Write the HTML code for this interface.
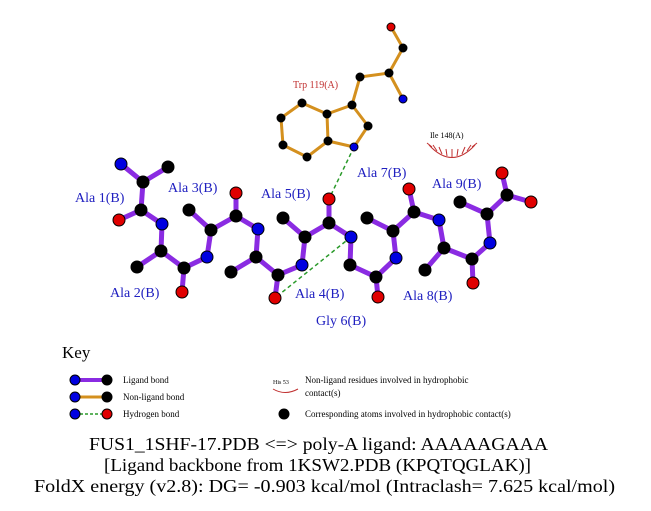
<!DOCTYPE html>
<html><head><style>body{margin:0;background:#fff}svg{display:block}</style></head><body>
<svg width="651" height="511" viewBox="0 0 651 511" xmlns="http://www.w3.org/2000/svg" font-family="Liberation Serif, serif">
<rect width="651" height="511" fill="#fff"/>
<g stroke="#8a2be2" stroke-width="5" fill="none" stroke-linejoin="round">
<polyline points="121,164 143,182 168,167"/>
<polyline points="143,182 141,210 119,220"/>
<polyline points="141,210 162,224 161,251 137,267"/>
<polyline points="161,251 184,268 182,292"/>
<polyline points="184,268 207,257 211,230 189,210"/>
<polyline points="211,230 236,216 236,193"/>
<polyline points="236,216 258,229 256,257 231,272"/>
<polyline points="256,257 278,275 275,298"/>
<polyline points="278,275 302,265 305,237 283,218"/>
<polyline points="305,237 329,223 329,199"/>
<polyline points="329,223 351,237 350,265 376,277 378,297"/>
<polyline points="376,277 396,258 393,231 367,218"/>
<polyline points="393,231 414,212 409,189"/>
<polyline points="414,212 439,220 444,248 425,270"/>
<polyline points="444,248 472,259 473,283"/>
<polyline points="472,259 490,243 487,214 460,202"/>
<polyline points="487,214 507,195 502,173"/>
<polyline points="507,195 531,202"/>
</g>
<g stroke="#d4901e" stroke-width="3" fill="none">
<polyline points="391,27 403,48 389,73 403,99"/>
<polyline points="389,73 360,77 352,105 368,126 354,147 328,141 327,114 352,105"/>
<polyline points="327,114 302,103 281,118 283,145 307,157 328,141"/>
</g>
<g stroke="#2a9a2a" stroke-width="1.5" stroke-dasharray="4,3">
<line x1="354" y1="147" x2="329" y2="199"/>
<line x1="351" y1="237" x2="275" y2="298"/>
</g>
<g stroke="#c03030" stroke-width="1" fill="none">
<path d="M429,145 Q452,170 475,145"/>
<path d="M432,147 l-5,-4 M437,151 l-4,-6 M442,154 l-3,-7 M447,156 l-1,-7 M452,157 l0,-8 M457,156 l1,-7 M462,154 l3,-7 M467,151 l4,-6 M472,147 l5,-4"/>
</g>
<g stroke="#000" stroke-width="1">
<circle cx="121" cy="164" r="6" fill="#0000e0"/><circle cx="168" cy="167" r="6" fill="#000"/>
<circle cx="143" cy="182" r="6" fill="#000"/><circle cx="141" cy="210" r="6" fill="#000"/>
<circle cx="119" cy="220" r="6" fill="#e00000"/><circle cx="162" cy="224" r="6" fill="#0000e0"/>
<circle cx="161" cy="251" r="6" fill="#000"/><circle cx="137" cy="267" r="6" fill="#000"/>
<circle cx="184" cy="268" r="6" fill="#000"/><circle cx="182" cy="292" r="6" fill="#e00000"/>
<circle cx="207" cy="257" r="6" fill="#0000e0"/><circle cx="211" cy="230" r="6" fill="#000"/>
<circle cx="189" cy="210" r="6" fill="#000"/><circle cx="236" cy="216" r="6" fill="#000"/>
<circle cx="236" cy="193" r="6" fill="#e00000"/><circle cx="258" cy="229" r="6" fill="#0000e0"/>
<circle cx="256" cy="257" r="6" fill="#000"/><circle cx="231" cy="272" r="6" fill="#000"/>
<circle cx="278" cy="275" r="6" fill="#000"/><circle cx="275" cy="298" r="6" fill="#e00000"/>
<circle cx="302" cy="265" r="6" fill="#0000e0"/><circle cx="305" cy="237" r="6" fill="#000"/>
<circle cx="283" cy="218" r="6" fill="#000"/><circle cx="329" cy="223" r="6" fill="#000"/>
<circle cx="329" cy="199" r="6" fill="#e00000"/><circle cx="351" cy="237" r="6" fill="#0000e0"/>
<circle cx="350" cy="265" r="6" fill="#000"/><circle cx="376" cy="277" r="6" fill="#000"/>
<circle cx="378" cy="297" r="6" fill="#e00000"/><circle cx="396" cy="258" r="6" fill="#0000e0"/>
<circle cx="393" cy="231" r="6" fill="#000"/><circle cx="367" cy="218" r="6" fill="#000"/>
<circle cx="414" cy="212" r="6" fill="#000"/><circle cx="409" cy="189" r="6" fill="#e00000"/>
<circle cx="439" cy="220" r="6" fill="#0000e0"/><circle cx="444" cy="248" r="6" fill="#000"/>
<circle cx="425" cy="270" r="6" fill="#000"/><circle cx="472" cy="259" r="6" fill="#000"/>
<circle cx="473" cy="283" r="6" fill="#e00000"/><circle cx="490" cy="243" r="6" fill="#0000e0"/>
<circle cx="487" cy="214" r="6" fill="#000"/><circle cx="460" cy="202" r="6" fill="#000"/>
<circle cx="507" cy="195" r="6" fill="#000"/><circle cx="502" cy="173" r="6" fill="#e00000"/>
<circle cx="531" cy="202" r="6" fill="#e00000"/>
<circle cx="391" cy="27" r="4" fill="#e00000"/><circle cx="403" cy="48" r="4" fill="#000"/>
<circle cx="389" cy="73" r="4" fill="#000"/><circle cx="403" cy="99" r="4" fill="#0000e0"/>
<circle cx="360" cy="77" r="4" fill="#000"/><circle cx="352" cy="105" r="4" fill="#000"/>
<circle cx="368" cy="126" r="4" fill="#000"/><circle cx="354" cy="147" r="4" fill="#0000e0"/>
<circle cx="328" cy="141" r="4" fill="#000"/><circle cx="327" cy="114" r="4" fill="#000"/>
<circle cx="302" cy="103" r="4" fill="#000"/><circle cx="281" cy="118" r="4" fill="#000"/>
<circle cx="283" cy="145" r="4" fill="#000"/><circle cx="307" cy="157" r="4" fill="#000"/>
</g>
<g fill="#2020c0" font-size="14">
<text x="75" y="202">Ala 1(B)</text><text x="168" y="192">Ala 3(B)</text>
<text x="261" y="198">Ala 5(B)</text><text x="357" y="177">Ala 7(B)</text>
<text x="432" y="188">Ala 9(B)</text><text x="110" y="297">Ala 2(B)</text>
<text x="295" y="298">Ala 4(B)</text><text x="316" y="325">Gly 6(B)</text>
<text x="403" y="300">Ala 8(B)</text>
</g>
<text x="293" y="88" font-size="10" fill="#c03030">Trp 119(A)</text>
<text x="430" y="138" font-size="8" fill="#000">Ile 148(A)</text>
<text x="62" y="358" font-size="17">Key</text>
<g stroke-width="4">
<line x1="75" y1="380" x2="107" y2="380" stroke="#8a2be2"/>
<line x1="75" y1="397" x2="107" y2="397" stroke="#d4901e" stroke-width="3"/>
<line x1="75" y1="414" x2="107" y2="414" stroke="#2a9a2a" stroke-width="1.5" stroke-dasharray="3,2"/>
</g>
<g stroke="#000">
<circle cx="75" cy="380" r="5" fill="#0000e0"/><circle cx="107" cy="380" r="5" fill="#000"/>
<circle cx="75" cy="397" r="5" fill="#0000e0"/><circle cx="107" cy="397" r="5" fill="#000"/>
<circle cx="75" cy="414" r="5" fill="#0000e0"/><circle cx="107" cy="414" r="5" fill="#e00000"/>
<circle cx="284" cy="414" r="5" fill="#000"/>
</g>
<g font-size="9">
<text x="123" y="383">Ligand bond</text><text x="123" y="400">Non-ligand bond</text><text x="123" y="417">Hydrogen bond</text>
<text x="305" y="383">Non-ligand residues involved in hydrophobic</text><text x="305" y="396">contact(s)</text>
<text x="305" y="417">Corresponding atoms involved in hydrophobic contact(s)</text>
<text x="273" y="384" font-size="6">His 53</text>
</g>
<path d="M273,389 Q285,396 298,389" stroke="#c03030" fill="none"/>
<g font-size="18">
<text x="89" y="450" textLength="459" lengthAdjust="spacingAndGlyphs">FUS1_1SHF-17.PDB &lt;=&gt; poly-A ligand: AAAAAGAAA</text>
<text x="104" y="471" textLength="427" lengthAdjust="spacingAndGlyphs">[Ligand backbone from 1KSW2.PDB (KPQTQGLAK)]</text>
<text x="34" y="492" textLength="581" lengthAdjust="spacingAndGlyphs">FoldX energy (v2.8): DG= -0.903 kcal/mol (Intraclash= 7.625 kcal/mol)</text>
</g>
</svg>
</body></html>
